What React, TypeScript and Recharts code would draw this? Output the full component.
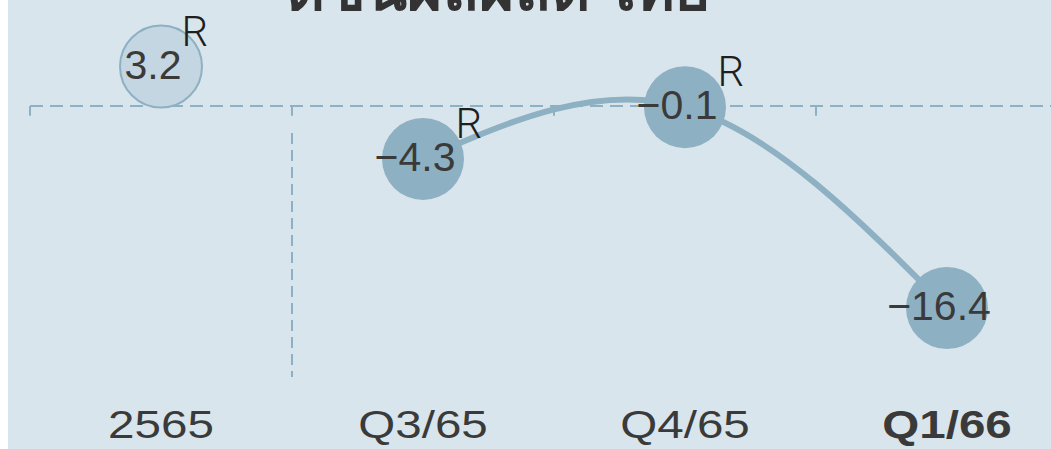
import React from "react";
import { ComposedChart, Line, XAxis, YAxis, ReferenceLine } from "recharts";

const title = "ดัชนีผลผลิต ไทย";
const categories = ["2565", "Q3/65", "Q4/65", "Q1/66"];
const values = [3.2, -4.3, -0.1, -16.4];
const isAnnual = [true, false, false, false];
const revised = [true, true, true, false];

const data = categories.map((period, i) => ({
  period,
  annual: isAnnual[i] ? values[i] : null,
  quarter: isAnnual[i] ? null : values[i],
}));

const BG = "#d9e5ec";
const BLUE = "#8eb0c3";
const LIGHT = "#c4d6e1";
const INK = "#3a3a3a";
const FONT = "'Liberation Sans', Arial, Helvetica, sans-serif";

const fmt = (v: number) => (v < 0 ? "\u2212" : "") + Math.abs(v).toFixed(1);
const advance = (s: string, size: number) =>
  [...s].reduce((w, c) => w + (c === "." ? 0.278 : c === "\u2212" ? 0.584 : 0.556) * size, 0);

const Bubble = (props: any) => {
  const { cx, cy, value, index, light } = props;
  if (value == null || cy == null) return <g key={`b${index}`} />;
  const text = fmt(value);
  const tx = cx - 8;
  const half = advance(text, 41) / 2;
  return (
    <g key={`b${index}`}>
      <circle
        cx={cx}
        cy={cy}
        r={41}
        fill={light ? LIGHT : BLUE}
        stroke={light ? BLUE : "none"}
        strokeWidth={2}
      />
      <text x={tx} y={cy + 12} textAnchor="middle" fontSize={41} fontFamily={FONT} fill={INK}>
        {text}
      </text>
      {revised[index] && (
        <text
          x={tx + half}
          y={cy - 21}
          fontSize={42}
          fontWeight={300}
          fontFamily="Roboto, 'Liberation Sans', sans-serif"
          fill="#1f1f1f"
        >
          R
        </text>
      )}
    </g>
  );
};

const PeriodTick = (props: any) => {
  const { x, y, payload, index } = props;
  const last = index === categories.length - 1;
  return (
    <text
      transform={`translate(${x},${y + 53}) scale(1.22,1)`}
      textAnchor="middle"
      fontSize={39}
      fontWeight={last ? 700 : 400}
      fontFamily={FONT}
      fill={INK}
    >
      {payload.value}
    </text>
  );
};

export default function App() {
  return (
    <div
      style={{
        position: "absolute",
        left: 8,
        top: 0,
        width: 1043,
        height: 449,
        overflow: "hidden",
        background: BG,
      }}
    >
      <svg width={1043} height={40} style={{ position: "absolute", left: 0, top: 0 }}>
        <text
          x={490}
          y={10}
          textAnchor="middle"
          fontSize={60}
          fontWeight={700}
          fontFamily="'Noto Sans', 'DejaVu Sans', sans-serif"
          fill="#333"
        >
          {title}
        </text>
      </svg>
      <ComposedChart
        width={1100}
        height={449}
        data={data}
        margin={{ top: 32, right: 30, bottom: 0, left: 22 }}
      >
        <XAxis
          dataKey="period"
          scale="band"
          axisLine={false}
          tickLine={false}
          interval={0}
          height={72}
          tick={<PeriodTick />}
        />
        <YAxis hide type="number" domain={[-22, 6]} />
        <ReferenceLine y={0} stroke={BLUE} strokeWidth={2} strokeDasharray="13 7" />
        {categories.map((c) => (
          <ReferenceLine
            key={c}
            position="start"
            segment={[
              { x: c, y: 0 },
              { x: c, y: -0.8 },
            ]}
            stroke={BLUE}
            strokeWidth={2}
          />
        ))}
        <ReferenceLine
          position="start"
          segment={[
            { x: categories[1], y: -2.2 },
            { x: categories[1], y: -22 },
          ]}
          stroke={BLUE}
          strokeWidth={2}
          strokeDasharray="11 6"
        />
        <Line
          dataKey="quarter"
          type="natural"
          stroke={BLUE}
          strokeWidth={6}
          dot={(p: any) => <Bubble {...p} />}
          activeDot={false}
          isAnimationActive={false}
        />
        <Line
          dataKey="annual"
          stroke="none"
          dot={(p: any) => <Bubble {...p} light />}
          activeDot={false}
          isAnimationActive={false}
        />
      </ComposedChart>
    </div>
  );
}
